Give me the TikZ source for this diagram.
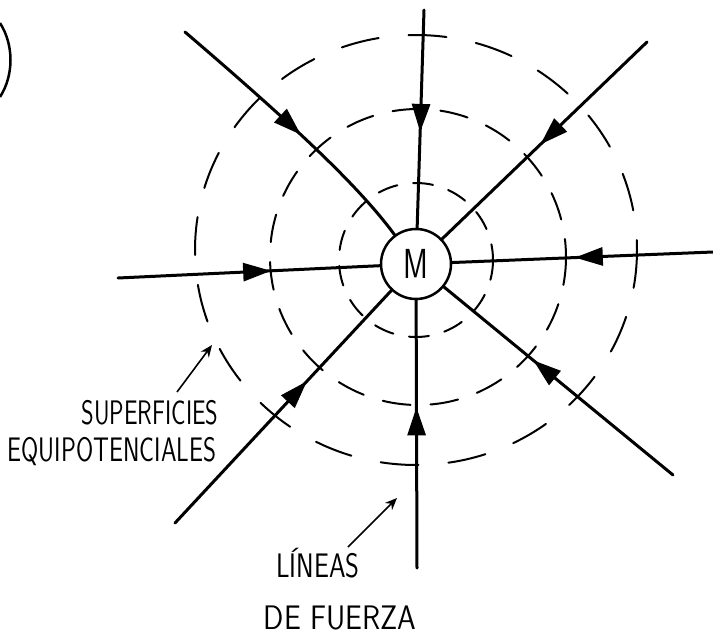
\documentclass[tikz,border=0pt]{standalone}
\usepackage{fontspec}
\usetikzlibrary{arrows.meta,decorations.markings}
\begin{document}
\begin{tikzpicture}[x=1pt,y=-1pt,
  field/.style={line width=3pt, line cap=round},
  midarrow/.style={postaction={decorate},
    decoration={markings, mark=at position #1 with {\arrow{Triangle[length=28pt,width=18pt]}}}},
  equip/.style={line width=2pt, line cap=round},
  mass/.style={circle, draw, line width=2.5pt, minimum size=70pt, inner sep=0pt,
    font=\sffamily\fontsize{42}{44}\selectfont},
  lbl/.style={font=\sffamily\fontsize{34}{36}\selectfont, inner sep=0pt},
  pointer/.style={line width=1.6pt, -{Stealth[length=12pt,width=10pt]}}]
\useasboundingbox (0,0) rectangle (713,640);
% partial circle at the top-left edge
\draw[line width=2.5pt] (0,23) .. controls (14,45) and (14,75) .. (0,97);
% equipotential surfaces
\draw[equip, dash pattern=on 20pt off 16pt] (416,260) circle [radius=77];
\draw[equip, dash pattern=on 28pt off 20pt] (418,257) circle [radius=148];
\draw[equip, dash pattern=on 38pt off 30pt] (416,250) ellipse [x radius=221, y radius=215];
% mass
\node[mass] (m) at (416,264) {\scalebox{0.72}[1]{M}};
% free ends of the field lines
\coordinate (top) at (424,10);
\coordinate (ul) at (185,32);
\coordinate (ur) at (647,42);
\coordinate (rt) at (713,252);
\coordinate (lf) at (118,278);
\coordinate (ll) at (175,523);
\coordinate (bt) at (417,568);
\coordinate (lr) at (673,475);
% field lines
\draw[field, midarrow=0.56] (top) -- (m);
\draw[field, midarrow=0.53] (ul) .. controls (290,122) and (358,185) .. (m);
\draw[field, midarrow=0.52] (ur) -- (m);
\draw[field, midarrow=0.53] (rt) -- (m);
\draw[field, midarrow=0.585] (lf) -- (m);
\draw[field, midarrow=0.61] (ll) -- (m);
\draw[field, midarrow=0.60] (bt) -- (m);
\draw[field, midarrow=0.61] (lr) -- (m);
% labels
\node[lbl] (sup) at (150,413) {\scalebox{0.71}[1]{SUPERFICIES}};
\node[lbl] (equ) at (112,452) {\scalebox{0.73}[1]{EQUIPOTENCIALES}};
\node[lbl] (lin) at (318,563) {\scalebox{0.78}[1]{LÍNEAS}};
\node[lbl] (fue) at (340,618) {\scalebox{0.88}[1]{DE FUERZA}};
\coordinate (s1) at (177,392);
\coordinate (s2) at (212,345);
\coordinate (l1) at (348,547);
\coordinate (l2) at (397,498);
\draw[pointer] (s1) -- (s2);
\draw[pointer] (l1) -- (l2);
\end{tikzpicture}
\end{document}
